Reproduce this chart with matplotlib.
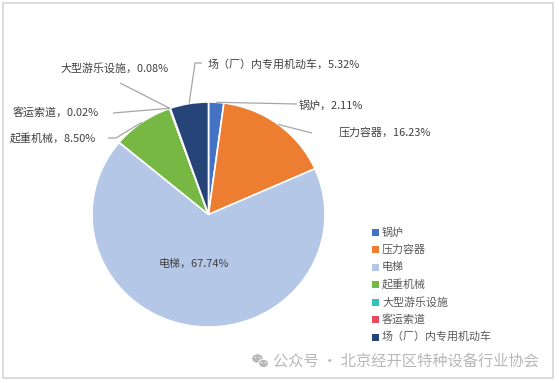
import matplotlib
matplotlib.use("Agg")
import matplotlib.pyplot as plt
from matplotlib.patches import Rectangle, Ellipse
import numpy as np

plt.rcParams['font.family'] = ['Noto Sans CJK SC', 'DejaVu Sans']

categories = ["锅炉", "压力容器", "电梯", "起重机械", "大型游乐设施", "客运索道", "场（厂）内专用机动车"]
values = [2.11, 16.23, 67.74, 8.50, 0.08, 0.02, 5.32]
colors = ["#4472C4", "#ED7D31", "#B4C7E7", "#76B843", "#33C3B5", "#E84A5F", "#264478"]
watermark = "公众号 · 北京经开区特种设备行业协会"

W, H = 559, 383
fig = plt.figure(figsize=(W / 100, H / 100), dpi=100)

# overlay axes in pixel coordinates (y downward)
ov = fig.add_axes([0, 0, 1, 1], zorder=3)
ov.set_xlim(0, W)
ov.set_ylim(H, 0)
ov.axis("off")
ov.patch.set_alpha(0)

# pie axes (slightly elliptical like the reference)
cx, cy, rx, ry = 208.5, 214.5, 116.5, 112.5
pie_ax = fig.add_axes([(cx - rx) / W, (H - (cy + ry)) / H, 2 * rx / W, 2 * ry / H], zorder=1)
wedges, _ = pie_ax.pie(values, colors=colors, startangle=90, counterclock=False,
                       wedgeprops=dict(edgecolor="white", linewidth=1.2))
pie_ax.set_aspect("auto")
pie_ax.set_xlim(-1, 1)
pie_ax.set_ylim(-1, 1)


def edge_px(i, r=1.0):
    w = wedges[i]
    ang = np.deg2rad((w.theta1 + w.theta2) / 2)
    p = pie_ax.transData.transform((r * np.cos(ang), r * np.sin(ang)))
    return ov.transData.inverted().transform(p)


labels = [f"{c}，{v:.2f}%" for c, v in zip(categories, values)]
tc = "#404040"
lc = "#A6A6A6"
fs = 7.9

# label text anchors (left edge, center y) and leader line label-side points
label_pos = {
    0: (299, 105, [(297, 104)]),
    1: (339, 133, [(312, 133)]),
    3: (10, 138, [(108, 138), (116, 138)]),
    4: (60, 68, [(120, 83)]),
    5: (13, 112, [(113, 113)]),
    6: (208, 65, [(202, 63), (195, 63)]),
}
for i, (tx, ty, pts) in label_pos.items():
    ov.text(tx, ty, labels[i], fontsize=fs, color=tc, ha="left", va="center")
    ex, ey = edge_px(i)
    xs = [p[0] for p in pts] + [ex]
    ys = [p[1] for p in pts] + [ey]
    ov.plot(xs, ys, color=lc, lw=0.9, solid_capstyle="butt")

# inside label for elevator
ov.text(194, 264, labels[2], fontsize=fs, color=tc, ha="center", va="center")

# legend
ly0, dy = 232, 17.5
for k, (c, col) in enumerate(zip(categories, colors)):
    y = ly0 + k * dy
    ov.add_patch(Rectangle((372, y - 3.5), 7, 7, facecolor=col, edgecolor="none"))
    ov.text(382, y, c, fontsize=7.9, color="#595959", ha="left", va="center")

# border
ov.add_patch(Rectangle((3, 3), 550, 375, facecolor="none", edgecolor="#D9D9D9", lw=1.3))

# watermark with wechat-like icon
gc = "#B8B8B8"
ov.add_patch(Ellipse((257.5, 358.5), 10.5, 8.5, facecolor=gc, edgecolor="none"))
ov.add_patch(Ellipse((263.5, 363.5), 10, 8.5, facecolor=gc, edgecolor="white", lw=0.8))
for (ex_, ey_) in [(255.5, 357.5), (259.5, 357.5), (261.5, 363), (265.5, 363)]:
    ov.add_patch(Ellipse((ex_, ey_), 1.3, 1.3, facecolor="white", edgecolor="none"))
ov.text(273, 361, watermark, fontsize=11, color=gc, ha="left", va="center")

fig.savefig("out.png", dpi=100, facecolor="white")
